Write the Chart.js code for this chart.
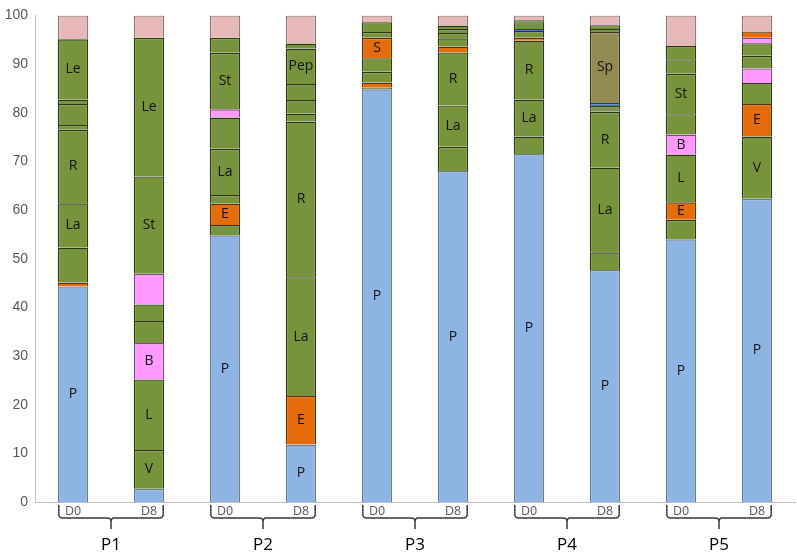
<!DOCTYPE html>
<html>
<head>
<meta charset="utf-8">
<script src="https://cdn.jsdelivr.net/npm/chart.js@4"></script>
<style>
  html, body { margin: 0; padding: 0; background: #ffffff; }
  #wrap { width: 797px; height: 552px; }
</style>
</head>
<body>
<div id="wrap"><canvas id="c" width="797" height="552"></canvas></div>
<script>
// ---- data (percent, bottom to top) ----
const categories = ['D0','D8','D0','D8','D0','D8','D0','D8','D0','D8'];
const groups = ['P1','P2','P3','P4','P5'];
const yTicks = [0,10,20,30,40,50,60,70,80,90,100];

// kind codes: P=blue, F=green, O=orange, M=magenta, X=light pink, S=tan, B=steel blue
const p1d0Values = [44.3, 0.8, 7.2, 9.1, 15.1, 1.0, 4.3, 0.9, 12.4, 4.9];
const p1d0Kinds  = ['P','O','F','F','F','F','F','F','F','X'];
const p1d0Labels = ['P','','','La','R','','','','Le',''];

const p1d8Values = [2.7, 8.0, 14.5, 7.5, 4.5, 3.4, 6.3, 20.0, 28.5, 4.6];
const p1d8Kinds  = ['P','F','F','M','F','F','M','F','F','X'];
const p1d8Labels = ['','V','L','B','','','','St','Le',''];

const p2d0Values = [54.8, 2.1, 4.4, 1.8, 9.5, 6.4, 1.7, 11.6, 3.1, 4.6];
const p2d0Kinds  = ['P','F','O','F','F','F','M','F','F','X'];
const p2d0Labels = ['P','','E','','La','','','St','',''];

const p2d8Values = [11.8, 10.0, 24.4, 32.0, 1.6, 2.8, 3.3, 7.3, 1.0, 5.8];
const p2d8Kinds  = ['P','O','F','F','F','F','F','F','F','X'];
const p2d8Labels = ['P','E','La','R','','','','Pep','',''];

const p3d0Values = [84.8, 0.4, 1.0, 2.2, 2.8, 4.2, 1.2, 2.0, 1.4];
const p3d0Kinds  = ['P','F','O','F','F','O','F','F','X'];
const p3d0Labels = ['P','','','','','S','','',''];

const p3d8Values = [68.0, 5.0, 8.5, 10.9, 1.2, 1.7, 1.1, 0.8, 0.7, 2.1];
const p3d8Kinds  = ['P','F','F','F','O','F','F','F','F','X'];
const p3d8Labels = ['P','','La','R','','','','','',''];

const p4d0Values = [71.5, 3.6, 7.6, 12.1, 0.6, 1.4, 0.4, 1.4, 0.4, 1.0];
const p4d0Kinds  = ['P','F','F','F','O','F','B','F','F','X'];
const p4d0Labels = ['P','','La','R','','','','','',''];

const p4d8Values = [47.7, 3.6, 17.4, 11.5, 0.5, 0.7, 0.6, 14.6, 0.6, 0.8, 2.0];
const p4d8Kinds  = ['P','F','F','F','F','F','B','S','F','F','X'];
const p4d8Labels = ['P','','La','R','','','','Sp','','',''];

const p5d0Values = [54.0, 4.0, 3.6, 9.8, 4.1, 4.2, 8.3, 3.0, 2.7, 6.3];
const p5d0Kinds  = ['P','F','O','F','M','F','F','F','F','X'];
const p5d0Labels = ['P','','E','L','B','','St','','',''];

const p5d8Values = [62.3, 12.8, 6.7, 4.3, 3.0, 2.6, 2.6, 1.1, 1.3, 3.3];
const p5d8Kinds  = ['P','F','O','F','M','F','F','M','O','X'];
const p5d8Labels = ['P','V','E','','','','','','',''];

// ---- styling ----
const fillByKind = { P:'#8EB4E3', F:'#77933C', O:'#E46C0A', M:'#FF99FF', X:'#E6B9B8', S:'#948A54', B:'#4F81BD' };
const lineByKind = { P:'#6f7a88', F:'#2a3812', O:'#5a3010', M:'#7a4a7a', X:'#8a7a7a', S:'#3a3620', B:'#243c5c' };

const allValues = [p1d0Values,p1d8Values,p2d0Values,p2d8Values,p3d0Values,p3d8Values,p4d0Values,p4d8Values,p5d0Values,p5d8Values];
const allKinds  = [p1d0Kinds,p1d8Kinds,p2d0Kinds,p2d8Kinds,p3d0Kinds,p3d8Kinds,p4d0Kinds,p4d8Kinds,p5d0Kinds,p5d8Kinds];
const allLabels = [p1d0Labels,p1d8Labels,p2d0Labels,p2d8Labels,p3d0Labels,p3d8Labels,p4d0Labels,p4d8Labels,p5d0Labels,p5d8Labels];

const maxLayers = Math.max(...allValues.map(a => a.length));
const datasets = [];
for (let i = 0; i < maxLayers; i++) {
  datasets.push({
    label: 'layer' + i,
    data: allValues.map(a => (i < a.length ? a[i] : null)),
    backgroundColor: allKinds.map(k => (i < k.length ? fillByKind[k[i]] : 'transparent')),
    borderColor: allKinds.map(k => (i < k.length ? lineByKind[k[i]] : 'transparent')),
    borderWidth: 1.4,
    segLabels: allLabels.map(l => (i < l.length ? l[i] : '')),
    categoryPercentage: 1.0,
    barPercentage: 0.4
  });
}

const segLabelPlugin = {
  id: 'segLabels',
  afterDatasetsDraw(chart) {
    const ctx = chart.ctx;
    ctx.save();
    ctx.font = '14px "Open Sans", "Liberation Sans", Arial, sans-serif';
    ctx.fillStyle = '#141414';
    ctx.textAlign = 'center';
    ctx.textBaseline = 'middle';
    chart.data.datasets.forEach((ds, di) => {
      const meta = chart.getDatasetMeta(di);
      meta.data.forEach((el, j) => {
        const t = ds.segLabels[j];
        if (!t || ds.data[j] == null) return;
        ctx.fillText(t, el.x, (el.y + el.base) / 2);
      });
    });
    ctx.restore();
  }
};

const bracketPlugin = {
  id: 'brackets',
  afterDraw(chart) {
    const ctx = chart.ctx;
    const meta = chart.getDatasetMeta(0);
    const top = chart.chartArea.bottom + 3;
    const bot = top + 13;
    const r = 4;
    ctx.save();
    ctx.strokeStyle = '#3a3a3a';
    ctx.lineWidth = 1.5;
    groups.forEach((g, gi) => {
      const a = meta.data[gi * 2], b = meta.data[gi * 2 + 1];
      const x0 = a.x - a.width / 2 + 1;
      const x1 = b.x + b.width / 2 - 1;
      const xm = (x0 + x1) / 2;
      ctx.beginPath();
      ctx.moveTo(x0, top);
      ctx.lineTo(x0, bot - r);
      ctx.quadraticCurveTo(x0, bot, x0 + r, bot);
      ctx.lineTo(xm - 3, bot);
      ctx.quadraticCurveTo(xm, bot, xm, bot + 4);
      ctx.lineTo(xm, bot + 11);
      ctx.moveTo(xm, bot + 4);
      ctx.quadraticCurveTo(xm, bot, xm + 3, bot);
      ctx.lineTo(x1 - r, bot);
      ctx.quadraticCurveTo(x1, bot, x1, bot - r);
      ctx.lineTo(x1, top);
      ctx.stroke();
      ctx.fillStyle = '#000';
      ctx.font = '17px "Open Sans", "Liberation Sans", Arial, sans-serif';
      ctx.textAlign = 'center';
      ctx.textBaseline = 'middle';
      ctx.fillText(g, xm, 545);
    });
    ctx.restore();
  }
};

new Chart(document.getElementById('c'), {
  type: 'bar',
  data: { labels: categories, datasets },
  options: {
    responsive: false,
    animation: false,
    layout: { padding: { top: 9, right: 2, left: 0, bottom: 0 } },
    plugins: { legend: { display: false }, tooltip: { enabled: false } },
    scales: {
      x: {
        stacked: true,
        grid: { display: false, drawTicks: false },
        border: { display: true, color: '#bfbfbf', width: 1 },
        ticks: { color: '#595959', font: { size: 12.5, family: '"Open Sans", "Liberation Sans", Arial, sans-serif' }, padding: 2, maxRotation: 0, autoSkip: false },
        afterFit(s) { s.height = 50; }
      },
      y: {
        stacked: true,
        min: 0, max: 100,
        afterBuildTicks(s) { s.ticks = yTicks.map(v => ({ value: v })); },
        grid: { display: false, drawTicks: false },
        border: { display: true, color: '#bfbfbf', width: 1 },
        ticks: { color: '#595959', font: { size: 14, family: '"Liberation Sans", Arial, sans-serif' }, padding: 7 },
        afterFit(s) { s.width = 35; }
      }
    }
  },
  plugins: [segLabelPlugin, bracketPlugin]
});
</script>
</body>
</html>
